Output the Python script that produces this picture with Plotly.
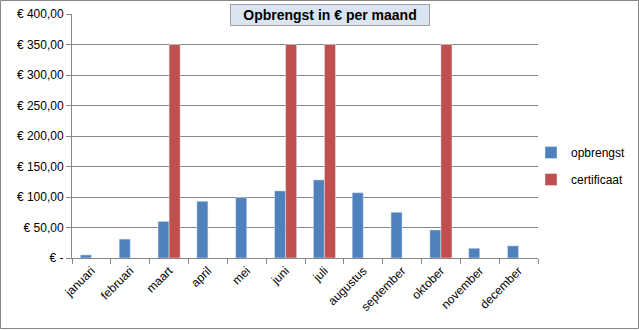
import plotly.graph_objects as go

months = ["januari", "februari", "maart", "april", "mei", "juni", "juli",
          "augustus", "september", "oktober", "november", "december"]
opbrengst = [5, 31, 60, 93, 99, 110, 128, 107, 75, 46, 16, 20]
certificaat = [0, 0, 350, 0, 0, 350, 350, 0, 0, 350, 0, 0]
ytickvals = [0, 50, 100, 150, 200, 250, 300, 350, 400]
yticktext = ["€ -", "€ 50,00", "€ 100,00", "€ 150,00", "€ 200,00",
             "€ 250,00", "€ 300,00", "€ 350,00", "€ 400,00"]

W, H = 639, 330
ml, mr, mt, mb = 72, 101, 14, 72
pw, ph = W - ml - mr, H - mt - mb

fig = go.Figure()
fig.add_trace(go.Bar(x=months, y=opbrengst, name="opbrengst", marker_color="#4f81bd",
                     legendgroup="a"))
fig.add_trace(go.Bar(x=months, y=[v if v else None for v in certificaat],
                     name="certificaat", marker_color="#c0504d", legendgroup="b"))

font = "Liberation Sans, Arial, sans-serif"
fig.update_layout(
    width=W, height=H, margin=dict(l=ml, r=mr, t=mt, b=mb, autoexpand=False),
    paper_bgcolor="white", plot_bgcolor="white",
    barmode="group", bargap=0.43, bargroupgap=0,
    font=dict(family=font, size=12, color="black"),
    showlegend=True,
    legend=dict(x=(531 - ml) / pw, y=1 - (138 - mt) / ph, xanchor="left", yanchor="top",
                font=dict(size=12), tracegroupgap=8, itemwidth=30, bgcolor="rgba(0,0,0,0)"),
    xaxis=dict(showgrid=False, showline=True, linecolor="#868686", linewidth=1,
               ticks="outside", tickson="boundaries", tickcolor="#868686", ticklen=5,
               tickangle=-45, tickfont=dict(size=12), fixedrange=True),
    yaxis=dict(range=[0, 400], tickvals=ytickvals, ticktext=yticktext,
               showgrid=True, gridcolor="#868686", gridwidth=1,
               showline=True, linecolor="#868686", linewidth=1,
               ticks="outside", tickcolor="#868686", ticklen=5,
               tickfont=dict(size=12), zeroline=False),
)

fig.add_annotation(
    xref="paper", yref="paper", x=(330 - ml) / pw, y=1 - (15 - mt) / ph,
    text="<b>Opbrengst in € per maand</b>", showarrow=False,
    font=dict(size=14, family=font, color="black"),
    bgcolor="#dbe5f1", bordercolor="#a0a0a0", borderwidth=1,
    width=196, height=18, xanchor="center", yanchor="middle",
)

fig.add_shape(type="rect", xref="paper", yref="paper",
              x0=(0.5 - ml) / pw, x1=(W - 0.5 - ml) / pw,
              y0=1 + (mt - 0.5) / ph, y1=1 - (H - 1.5 - mt) / ph,
              line=dict(color="#868686", width=1), layer="below")

fig.write_html("out.html")
